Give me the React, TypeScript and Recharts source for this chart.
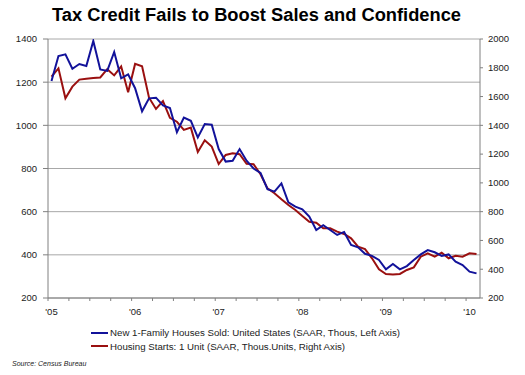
import React from 'react';
import { LineChart, Line, XAxis, YAxis, CartesianGrid } from 'recharts';

const TITLE = 'Tax Credit Fails to Boost Sales and Confidence';
const SOURCE = 'Source: Census Bureau';

// Monthly categories, Jan 2005 .. Feb 2010
const YEAR_LABELS = ["'05", "'06", "'07", "'08", "'09", "'10"];
const START_YEAR_INDEX = [0, 12, 24, 36, 48, 60];

const SERIES_NAMES = [
  'New 1-Family Houses Sold: United States (SAAR, Thous, Left Axis)',
  'Housing Starts: 1 Unit (SAAR, Thous.Units, Right Axis)',
];

const newHomeSales = [
  1205, 1321, 1329, 1262, 1284, 1275, 1391, 1259, 1252, 1340, 1218, 1236,
  1172, 1065, 1125, 1128, 1092, 1080, 968, 1036, 1021, 944, 1006, 1003,
  890, 832, 836, 890, 836, 800, 780, 704, 693, 731, 643, 623,
  611, 577, 515, 537, 515, 492, 506, 446, 435, 405, 395, 376,
  333, 358, 333, 348, 376, 402, 422, 412, 395, 402, 368, 353,
  322, 314,
];

const housingStarts = [
  1738, 1796, 1588, 1669, 1718, 1724, 1729, 1733, 1790, 1747, 1810, 1630,
  1827, 1810, 1592, 1514, 1568, 1452, 1425, 1368, 1384, 1215, 1296, 1252,
  1131, 1194, 1206, 1199, 1133, 1130, 1060, 962, 928, 886, 846, 812,
  770, 730, 723, 684, 684, 661, 645, 615, 557, 540, 476, 399,
  367, 364, 367, 395, 413, 487, 511, 487, 515, 476, 494, 487,
  511, 506,
];

const LEFT_TICKS = [200, 400, 600, 800, 1000, 1200, 1400];
const RIGHT_TICKS = [200, 400, 600, 800, 1000, 1200, 1400, 1600, 1800, 2000];

const data = newHomeSales.map((v, i) => ({ i, sales: v, starts: housingStarts[i] }));
const minorTicks = Array.from({ length: 21 }, (_, k) => k * 3 - 0.5);

const BLUE = '#12129a';
const RED = '#9a1010';
const FONT = '"Liberation Sans", Arial, sans-serif';

export default function App() {
  return (
    <div style={{ position: 'absolute', left: 0, top: 0, width: 525, height: 375, background: '#fff', fontFamily: FONT }}>
      <div style={{ position: 'absolute', left: 0, top: 4, width: 513, textAlign: 'center', fontSize: 18.3, fontWeight: 'bold', lineHeight: '22px', color: '#000', whiteSpace: 'nowrap' }}>
        {TITLE}
      </div>
      <LineChart width={525} height={375} data={data} margin={{ top: 39, right: 0, left: 0, bottom: 51 }}>
        <CartesianGrid horizontal vertical={false} stroke="#a8a8a8" strokeWidth={1} yAxisId="left" />
        <XAxis
          xAxisId="minor"
          dataKey="i"
          type="number"
          domain={[-0.5, 61.5]}
          ticks={minorTicks}
          tickFormatter={() => ''}
          tickSize={3}
          height={6}
          stroke="#808080"
          axisLine={{ stroke: '#808080' }}
          allowDataOverflow
        />
        <XAxis
          xAxisId="years"
          dataKey="i"
          type="number"
          domain={[-0.5, 61.5]}
          ticks={START_YEAR_INDEX}
          tickFormatter={(v: number) => YEAR_LABELS[START_YEAR_INDEX.indexOf(v)] ?? ''}
          axisLine={false}
          tickLine={false}
          tickSize={2}
          tickMargin={2}
          height={20}
          tick={{ fontSize: 9.5, fill: '#222', fontFamily: FONT }}
          allowDataOverflow
        />
        <YAxis
          yAxisId="left"
          orientation="left"
          domain={[200, 1400]}
          ticks={LEFT_TICKS}
          width={48}
          tickSize={5}
          tickMargin={6}
          stroke="#808080"
          tick={{ fontSize: 9.5, fill: '#222', fontFamily: FONT }}
          allowDataOverflow
        />
        <YAxis
          yAxisId="right"
          orientation="right"
          domain={[200, 2000]}
          ticks={RIGHT_TICKS}
          width={45}
          tickSize={3}
          tickMargin={5}
          stroke="#808080"
          tick={{ fontSize: 9.5, fill: '#222', fontFamily: FONT, textAnchor: 'start' }}
          allowDataOverflow
        />
        <Line
          xAxisId="minor"
          yAxisId="right"
          type="linear"
          dataKey="starts"
          stroke={RED}
          strokeWidth={2}
          dot={false}
          isAnimationActive={false}
        />
        <Line
          xAxisId="minor"
          yAxisId="left"
          type="linear"
          dataKey="sales"
          stroke={BLUE}
          strokeWidth={2}
          dot={false}
          isAnimationActive={false}
        />
      </LineChart>
      <div style={{ position: 'absolute', left: 91, top: 326, fontSize: 9.7, color: '#222', lineHeight: '13.5px' }}>
        {SERIES_NAMES.map((name, k) => (
          <div key={name} style={{ display: 'flex', alignItems: 'center', whiteSpace: 'nowrap' }}>
            <span style={{ display: 'inline-block', width: 17, height: 2, background: k === 0 ? BLUE : RED, marginRight: 2 }} />
            <span>{name}</span>
          </div>
        ))}
      </div>
      <div style={{ position: 'absolute', left: 12, top: 360, fontSize: 7, fontStyle: 'italic', color: '#222', whiteSpace: 'nowrap' }}>
        {SOURCE}
      </div>
    </div>
  );
}
